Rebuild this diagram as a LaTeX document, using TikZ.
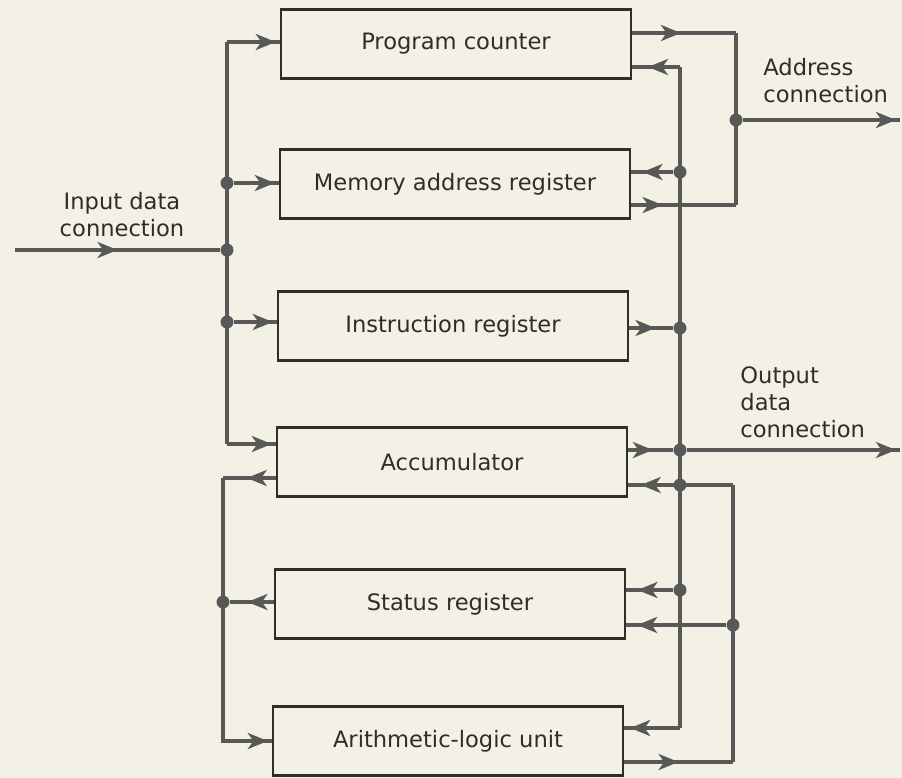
\documentclass[tikz,border=0pt]{standalone}
\usepackage{fontspec}
\setmainfont{DejaVu Sans}
\usepackage{tikz}
\usetikzlibrary{positioning,calc,arrows.meta,decorations.markings}
\definecolor{paper}{RGB}{243,240,229}
\definecolor{ink}{RGB}{88,88,86}
\definecolor{txt}{RGB}{45,45,43}

\begin{document}
\begin{tikzpicture}[x=0.5pt,y=-0.5pt,
    reg/.style={draw=txt, line width=1.2pt, minimum width=175pt, minimum height=34.5pt,
      inner sep=0pt, font=\fontsize{11.3}{13.5}\selectfont, text=txt},
    wire/.style={draw=ink, line width=1.7pt},
    flow/.style={wire, postaction={decorate},
      decoration={markings, mark=at position #1 with {\arrow{Stealth[length=10pt,width=8pt,inset=2.8pt]}}}},
    flow/.default=-2pt,
    dot/.style={circle, fill=ink, inner sep=0pt, minimum size=6.5pt},
    lbl/.style={font=\fontsize{11.3}{13.5}\selectfont, text=txt, inner sep=0pt}]
      \fill[paper] (0,0) rectangle (902,778);
      \node[reg] (pc) at (456,44) {Program counter};
      \node[reg] (mar) at (455,184) {Memory address register};
      \node[reg] (ir) at (453,326) {Instruction register};
      \node[reg] (acc) at (452,462) {Accumulator};
      \node[reg] (sr) at (450,604) {Status register};
      \node[reg] (alu) at (448,741) {Arithmetic-logic unit};
      \node[lbl, align=center] (inlbl) at (122,215) {Input data\\connection};
      \node[lbl, align=left, anchor=west] (adlbl) at (763,81) {Address\\connection};
      \node[lbl, align=left, anchor=west] (odlbl) at (740,402) {Output\\data\\connection};

      \coordinate (in) at (15,250);
      \coordinate (lt) at (227,42);
      \coordinate (lb) at (227,444);
      \coordinate (ao) at (223,478);
      \coordinate (rt) at (680,67);
      \coordinate (rb) at (680,728);
      \coordinate (ro1) at (733,485);
      \coordinate (ro2) at (733,762);
      \coordinate (ot) at (736,33);
      \coordinate (ob) at (736,205);
      \coordinate (ad) at (900,120);
      \coordinate (od) at (900,450);
      \node[dot] (jin) at (227,250) {};
      \node[dot] (jmar) at (227,183) {};
      \node[dot] (jir) at (227,322) {};
      \node[dot] (jsr) at (223,602) {};
      \node[dot] (jmar2) at (680,172) {};
      \node[dot] (jir2) at (680,328) {};
      \node[dot] (jacc) at (680,450) {};
      \node[dot] (jacc2) at (680,485) {};
      \node[dot] (jsr2) at (680,590) {};
      \node[dot] (jsr3) at (733,625) {};
      \node[dot] (jad) at (736,120) {};

      \draw[wire] (lt) -- (lb);
      \draw[flow=0.5] (in) -- (jin);
      \draw[flow] (lt) -- (lt -| pc.west);
      \draw[flow] (jmar) -- (jmar -| mar.west);
      \draw[flow] (jir) -- (jir -| ir.west);
      \draw[flow] (lb) -- (lb -| acc.west);
      \draw[flow=0.55] (ao -| acc.west) -- (ao);
      \draw[flow] (ao) |- (alu.west);
      \draw[flow=0.6] (jsr -| sr.west) -- (jsr);

      \draw[wire] (rt) -- (rb);
      \draw[flow=0.67] (rt) -- (rt -| pc.east);
      \draw[flow=0.73] (jmar2) -- (jmar2 -| mar.east);
      \draw[flow=0.6] (jir2 -| ir.east) -- (jir2);
      \draw[flow=0.55] (jacc -| acc.east) -- (jacc);
      \draw[flow] (jacc) -- (od);
      \draw[flow=0.88] (ro1) -- (ro1 -| acc.east);
      \draw[flow=0.76] (jsr2) -- (jsr2 -| sr.east);
      \draw[flow=-3pt] (rb) -- (rb -| alu.east);

      \draw[flow=0.5] (ro2 -| alu.east) -- (ro2);
      \draw[wire] (ro2) -- (ro1);
      \draw[flow=0.89] (jsr3) -- (jsr3 -| sr.east);

      \draw[flow=0.47] (ot -| pc.east) -- (ot);
      \draw[wire] (ot) -- (ob);
      \draw[flow=0.3] (ob -| mar.east) -- (ob);
      \draw[flow] (jad) -- (ad);
\end{tikzpicture}
\end{document}
